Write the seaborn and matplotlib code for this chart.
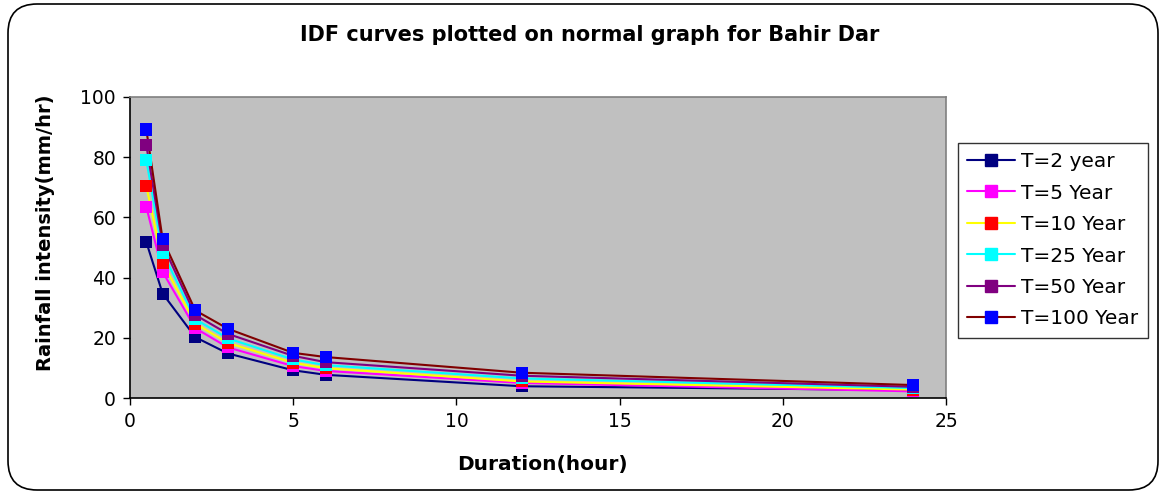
import numpy as np
import pandas as pd
import matplotlib
matplotlib.use("Agg")
import matplotlib.pyplot as plt
from matplotlib.lines import Line2D
from matplotlib.patches import FancyBboxPatch
import seaborn as sns

durations = [0.5, 1, 2, 3, 5, 6, 12, 24]
series_names = ["T=2 year", "T=5 Year", "T=10 Year", "T=25 Year", "T=50 Year", "T=100 Year"]
t2 = [51.8, 34.7, 20.2, 14.8, 9.2, 7.7, 3.9, 2.6]
t5 = [63.5, 41.9, 23.2, 16.8, 10.6, 9.0, 5.0, 2.2]
t10 = [70.4, 45.0, 24.7, 18.3, 11.7, 9.9, 5.5, 2.8]
t25 = [79.0, 48.3, 26.2, 19.8, 12.8, 10.9, 6.5, 3.3]
t50 = [84.0, 50.9, 27.6, 21.3, 14.0, 11.9, 7.4, 3.7]
t100 = [89.2, 52.7, 29.1, 23.0, 15.0, 13.6, 8.4, 4.3]
line_colors = ["#000080", "#FF00FF", "#FFFF00", "#00FFFF", "#800080", "#800000"]
marker_colors = ["#000080", "#FF00FF", "#FF0000", "#00FFFF", "#800080", "#0000FF"]

all_vals = [t2, t5, t10, t25, t50, t100]
df = pd.DataFrame({
    "Duration": np.tile(durations, len(series_names)),
    "Intensity": np.concatenate(all_vals),
    "Series": np.repeat(series_names, len(durations)),
})

sns.set_style("white")
plt.rcParams["font.family"] = ["DejaVu Sans"]
plt.rcParams["text.color"] = "black"
plt.rcParams["axes.labelcolor"] = "black"

fig = plt.figure(figsize=(11.63, 4.96), dpi=100)
ax = fig.add_axes([130 / 1163, 1 - 398 / 496, 816 / 1163, 301 / 496])
ax.set_facecolor("#C0C0C0")

sns.lineplot(data=df, x="Duration", y="Intensity", hue="Series",
             palette=dict(zip(series_names, line_colors)), ax=ax,
             linewidth=1.5, legend=False, sort=True)
sns.scatterplot(data=df, x="Duration", y="Intensity", hue="Series",
                palette=dict(zip(series_names, marker_colors)), ax=ax,
                marker="s", s=75, edgecolor="none", legend=False, zorder=5)

ax.set_xlim(0, 25)
ax.set_ylim(0, 100)
ax.set_xticks([0, 5, 10, 15, 20, 25])
ax.set_yticks([0, 20, 40, 60, 80, 100])
ax.tick_params(axis="both", which="both", direction="out", length=5, width=1,
               labelsize=13.5, colors="black", bottom=True, left=True, pad=5)
for side in ["left", "bottom"]:
    ax.spines[side].set_color("black")
    ax.spines[side].set_linewidth(1.2)
for side in ["top", "right"]:
    ax.spines[side].set_color("#808080")
    ax.spines[side].set_linewidth(1.2)

ax.set_xlabel("Duration(hour)", fontsize=14.5, fontweight="bold", color="black")
ax.set_ylabel("Rainfall intensity(mm/hr)", fontsize=14, fontweight="bold", color="black")
ax.xaxis.set_label_coords(0.505, -0.19)
ax.yaxis.set_label_coords(-0.092, 0.55)

fig.text(590 / 1163, 1 - 35 / 496, "IDF curves plotted on normal graph for Bahir Dar",
         ha="center", va="center", fontsize=15, fontweight="bold", color="black")

handles = [Line2D([0], [0], color=lc, lw=1.5, marker="s", markersize=8,
                  markerfacecolor=mc, markeredgecolor=mc)
           for lc, mc in zip(line_colors, marker_colors)]
leg = fig.legend(handles, series_names, loc="upper left",
                 bbox_to_anchor=(958 / 1163, 1 - 143 / 496),
                 frameon=True, fancybox=False, fontsize=14.5, handlelength=2.4,
                 handletextpad=0.3, labelspacing=0.62, borderpad=0.45, borderaxespad=0)
leg.get_frame().set_edgecolor("black")
leg.get_frame().set_linewidth(1.0)
for t in leg.get_texts():
    t.set_color("black")

border = FancyBboxPatch((8 / 1163, 6 / 496), 1150 / 1163, 486 / 496,
                        boxstyle="round,pad=0,rounding_size=0.025",
                        transform=fig.transFigure, facecolor="none",
                        edgecolor="black", linewidth=1.2, mutation_aspect=1163 / 496)
fig.patches.append(border)

fig.savefig("out.png", dpi=100)
